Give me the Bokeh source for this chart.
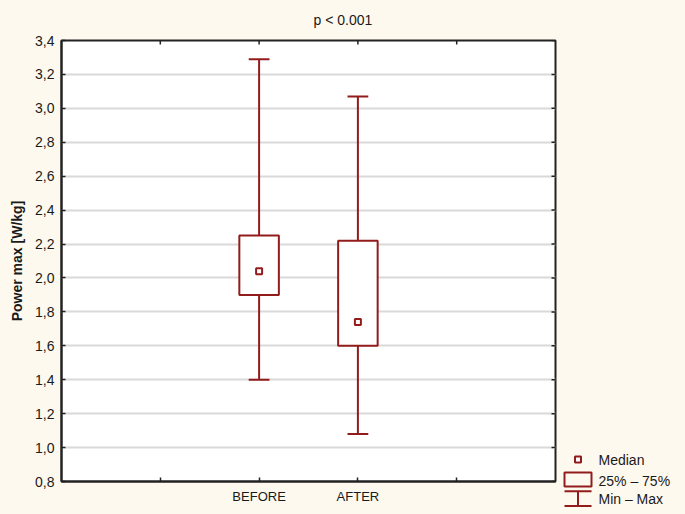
import math
from bokeh.plotting import figure
from bokeh.layouts import row
from bokeh.models import Range1d, FixedTicker, CustomJSTickFormatter
from bokeh.core.properties import value
from bokeh.embed import file_html
from bokeh.resources import INLINE

# ---------------- data ----------------
categories = ["BEFORE", "AFTER"]
mins = [1.40, 1.08]
q1s = [1.90, 1.60]
medians = [2.04, 1.74]
q3s = [2.25, 2.22]
maxs = [3.29, 3.07]
y_ticks = [0.8, 1.0, 1.2, 1.4, 1.6, 1.8, 2.0, 2.2, 2.4, 2.6, 2.8, 3.0, 3.2, 3.4]
x_ticks = [1, 2, 3, 4]
title_text = "p < 0.001"
y_label = "Power max [W/kg]"
legend_labels = ["Median", "25% \u2013 75%", "Min \u2013 Max"]

# ---------------- styles / layout ----------------
BG = "#FEF9EE"
RED = "#921C1C"
GRID = "#D9D9D9"
FONT = "Liberation Sans"
TXT = "#1A1A1A"
EDGE = "#222222"

W, H = 685, 514
FL, FR, FT, FB = 61, 555, 40, 481      # frame edges in page pixels
PW = FR + 5                            # width of the main plot
x_lo, x_hi = 0, 5
y_lo, y_hi = 0.8, 3.4

x_pos = [i + 2 for i in range(len(categories))]
box_w = 0.40
cap_w = 0.21

p = figure(width=PW, height=H, x_range=Range1d(x_lo, x_hi), y_range=Range1d(y_lo, y_hi),
           output_backend="svg", toolbar_location=None,
           min_border_left=FL, min_border_right=PW - FR, min_border_top=FT, min_border_bottom=H - FB,
           background_fill_color="white", border_fill_color=BG)
p.frame_align = False
p.outline_line_color = EDGE
p.outline_line_width = 2

# title
p.title.text = title_text
p.title.align = "left"
p.title.offset = 252
p.title.standoff = 22
p.title.vertical_align = "top"
p.title.text_font = FONT
p.title.text_font_size = "14px"
p.title.text_font_style = "normal"
p.title.text_color = TXT

# axes
x_over = {t: "" for t in x_ticks}
for xp, c in zip(x_pos, categories):
    x_over[xp] = c

def style_axis(ax):
    ax.axis_line_color = EDGE
    ax.axis_line_width = 2
    ax.major_tick_in = 4
    ax.major_tick_out = 0
    ax.minor_tick_line_color = None
    ax.major_tick_line_color = EDGE
    ax.major_tick_line_width = 1.5
    ax.major_label_text_font = FONT
    ax.major_label_text_color = TXT

xa = p.xaxis[0]
xa.ticker = FixedTicker(ticks=x_ticks)
xa.major_label_overrides = x_over
style_axis(xa)
xa.major_label_text_font_size = "13px"
xa.major_label_standoff = 7

ya = p.yaxis[0]
ya.ticker = FixedTicker(ticks=y_ticks)
ya.formatter = CustomJSTickFormatter(code="return tick.toFixed(1).replace('.', ',');")
style_axis(ya)
ya.major_label_text_font_size = "14px"
ya.major_label_standoff = 7
ya.axis_label = y_label
ya.axis_label_text_font = FONT
ya.axis_label_text_font_size = "14px"
ya.axis_label_text_font_style = "bold"
ya.axis_label_text_color = TXT
ya.axis_label_standoff = 7

p.xgrid.grid_line_color = None
p.ygrid.ticker = FixedTicker(ticks=y_ticks)
p.ygrid.grid_line_color = GRID
p.ygrid.grid_line_width = 2

# mirrored inward ticks on top and right edges
p.ray(x=x_ticks, y=[y_hi] * len(x_ticks), length=4, length_units="screen",
      angle=-math.pi / 2, line_color=EDGE, line_width=1.5)
p.ray(x=[x_hi] * len(y_ticks), y=y_ticks, length=4, length_units="screen",
      angle=math.pi, line_color=EDGE, line_width=1.5)

# whiskers
p.segment(x0=x_pos, y0=mins, x1=x_pos, y1=q1s, line_color=RED, line_width=2)
p.segment(x0=x_pos, y0=q3s, x1=x_pos, y1=maxs, line_color=RED, line_width=2)
p.segment(x0=[x - cap_w / 2 for x in x_pos], y0=mins, x1=[x + cap_w / 2 for x in x_pos], y1=mins,
          line_color=RED, line_width=2)
p.segment(x0=[x - cap_w / 2 for x in x_pos], y0=maxs, x1=[x + cap_w / 2 for x in x_pos], y1=maxs,
          line_color=RED, line_width=2)
# boxes
p.vbar(x=x_pos, width=box_w, bottom=q1s, top=q3s, fill_color="white", line_color=RED, line_width=2)
# medians
p.scatter(x=x_pos, y=medians, marker="square", size=6, fill_color="white", line_color=RED, line_width=2)

# ---------------- legend panel (page-pixel coordinates) ----------------
QW = W - PW
q = figure(width=QW, height=H, x_range=Range1d(PW, W), y_range=Range1d(H, 0),
           output_backend="svg", toolbar_location=None, title=None,
           min_border=0, x_axis_location=None, y_axis_location=None,
           background_fill_color=BG, border_fill_color=BG)
q.frame_align = False
q.outline_line_color = None
q.grid.visible = False

ix0, ix1 = 564, 591
ixc = (ix0 + ix1) / 2
row_y = [459, 480, 498]
text_x = 598

q.scatter(x=[ixc], y=[row_y[0]], marker="square", size=6, fill_color="white",
          line_color=RED, line_width=2)
q.quad(left=[ix0], right=[ix1], top=[472], bottom=[486],
       fill_color=None, line_color=RED, line_width=2)
it, ib = 490.7, 505.5
q.segment(x0=[ix0, ix0, ixc], y0=[it, ib, it], x1=[ix1, ix1, ixc], y1=[it, ib, ib],
          line_color=RED, line_width=2)
q.text(x=[text_x] * len(legend_labels), y=row_y, text=legend_labels, text_font=value(FONT),
       text_font_size="14px", text_baseline="middle", text_align="left", text_color=TXT)

layout = row(p, q, spacing=0)
html = file_html(layout, INLINE)
html = html.replace("</head>", "<style>body{background-color:%s;}</style></head>" % BG, 1)
open("out.html", "w").write(html)
